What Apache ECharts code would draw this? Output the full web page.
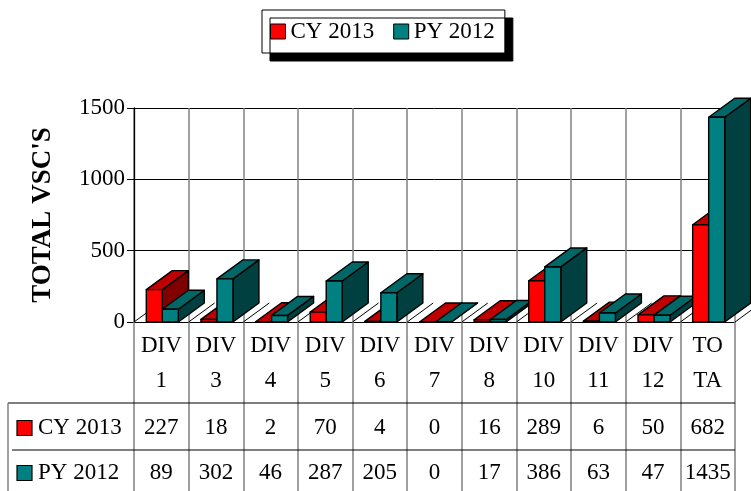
<!DOCTYPE html>
<html>
<head>
<meta charset="utf-8">
<script src="https://cdn.jsdelivr.net/npm/echarts@6/dist/echarts.min.js"></script>
<style>
  html, body { margin: 0; padding: 0; background: #fff; }
  #chart { width: 751px; height: 491px; }
</style>
</head>
<body>
<div id="chart"></div>
<script>
// data
const categories = ['DIV\n1', 'DIV\n3', 'DIV\n4', 'DIV\n5', 'DIV\n6', 'DIV\n7', 'DIV\n8', 'DIV\n10', 'DIV\n11', 'DIV\n12', 'TO\nTA'];
const cy2013 = [227, 18, 2, 70, 4, 0, 16, 289, 6, 50, 682];
const py2012 = [89, 302, 46, 287, 205, 0, 17, 386, 63, 47, 1435];
const seriesNames = ['CY 2013', 'PY 2012'];
const yTicks = [0, 500, 1000, 1500];

const FONT = '"Liberation Serif", "Times New Roman", serif';
const palettes = [
  { front: '#ff0000', top: '#c00000', side: '#800000' },
  { front: '#008080', top: '#006666', side: '#004040' }
];
const DEPTH_X = 26;
const DEPTH_Y = -19;

const chart = echarts.init(document.getElementById('chart'), null, { renderer: 'canvas' });

// 3D 柱子
function renderBar(k) {
  const pal = palettes[k];
  return function (params, api) {
    const i = api.value(0);
    const v = api.value(1);
    const base = api.coord([i, 0]);
    const top = api.coord([i, v]);
    const band = api.size([1, 0])[0];
    const w = band * 0.293;
    const x0 = base[0] - band * 0.275 + k * w;
    const x1 = x0 + w;
    const ty = top[1];
    const by = base[1];
    const z = i * 10 + k * 4;
    const stroke = { stroke: '#000', lineWidth: 1.4, lineJoin: 'round' };
    return {
      type: 'group',
      children: [
        {
          type: 'polygon', z2: z,
          shape: { points: [[x1, ty], [x1 + DEPTH_X, ty + DEPTH_Y], [x1 + DEPTH_X, by + DEPTH_Y], [x1, by]] },
          style: Object.assign({ fill: pal.side }, stroke)
        },
        {
          type: 'polygon', z2: z + 1,
          shape: { points: [[x0, ty], [x1, ty], [x1 + DEPTH_X, ty + DEPTH_Y], [x0 + DEPTH_X, ty + DEPTH_Y]] },
          style: Object.assign({ fill: pal.top }, stroke)
        },
        {
          type: 'rect', z2: z + 2,
          shape: { x: x0, y: ty, width: w, height: by - ty },
          style: Object.assign({ fill: pal.front }, stroke)
        }
      ]
    };
  };
}

const option = {
  animation: false,
  backgroundColor: '#fff',
  legend: {
    left: 262,
    top: 10,
    padding: [10, 10, 10, 8],
    itemWidth: 15,
    itemHeight: 15,
    itemGap: 19,
    icon: 'rect',
    backgroundColor: '#fff',
    borderColor: '#000',
    borderWidth: 1,
    borderRadius: 0,
    shadowColor: '#000',
    shadowBlur: 0,
    shadowOffsetX: 8,
    shadowOffsetY: 8,
    itemStyle: { borderColor: '#000', borderWidth: 1 },
    textStyle: { fontFamily: FONT, fontSize: 23, color: '#000' },
    data: seriesNames
  },
  grid: { left: 134, right: 16, top: 108, bottom: 169, containLabel: false },
  xAxis: {
    type: 'category',
    data: categories,
    boundaryGap: true,
    axisLine: { show: true, lineStyle: { color: '#000', width: 1 } },
    axisTick: { show: true, length: 170, lineStyle: { color: '#808080', width: 1.5 } },
    axisLabel: { fontFamily: FONT, fontSize: 23, color: '#000', lineHeight: 35, margin: 6, interval: 0 },
    splitLine: { show: true, lineStyle: { color: '#808080', width: 1.5 } }
  },
  yAxis: {
    type: 'value',
    min: yTicks[0],
    max: yTicks[yTicks.length - 1],
    interval: yTicks[1] - yTicks[0],
    name: "TOTAL VSC'S",
    nameLocation: 'middle',
    nameGap: 77,
    nameTextStyle: { fontFamily: FONT, fontSize: 27, fontWeight: 'bold', color: '#000' },
    axisLine: { show: true, lineStyle: { color: '#000', width: 1.3 } },
    axisTick: { show: true, length: 7, lineStyle: { color: '#000' } },
    axisLabel: { fontFamily: FONT, fontSize: 23, color: '#000', margin: 9, formatter: v => String(v) },
    splitLine: { show: true, lineStyle: { color: '#000', width: 1 } }
  },
  series: [
    {
      name: seriesNames[0], type: 'custom', z: 3,
      itemStyle: { color: palettes[0].front },
      renderItem: renderBar(0),
      encode: { x: 0, y: 1 },
      data: cy2013.map((v, i) => [i, v])
    },
    {
      name: seriesNames[1], type: 'custom', z: 3,
      itemStyle: { color: palettes[1].front },
      renderItem: renderBar(1),
      encode: { x: 0, y: 1 },
      data: py2012.map((v, i) => [i, v])
    }
  ]
};

chart.setOption(option);

// 表格、地板斜线、网格延长
const c0 = chart.convertToPixel({ xAxisIndex: 0 }, 0);
const c1 = chart.convertToPixel({ xAxisIndex: 0 }, 1);
const band = c1 - c0;
const y0 = chart.convertToPixel({ yAxisIndex: 0 }, 0);
const leftEdge = c0 - band / 2;
const rightEdge = leftEdge + band * categories.length;
const rowLineY = [403, 450];
const rowTextY = [428, 473];
const graphics = [];

// 地板斜线
for (let b = 0; b <= categories.length; b++) {
  const x = leftEdge + b * band;
  graphics.push({
    type: 'line', z: 1,
    shape: { x1: x, y1: y0, x2: x + DEPTH_X, y2: y0 + DEPTH_Y },
    style: { stroke: '#000', lineWidth: 1 }
  });
}
// 网格线延长到右边
yTicks.slice(1).forEach(t => {
  const y = chart.convertToPixel({ yAxisIndex: 0 }, t);
  graphics.push({
    type: 'line', z: 1,
    shape: { x1: rightEdge, y1: y, x2: 751, y2: y },
    style: { stroke: '#000', lineWidth: 1 }
  });
});
// 表格横线
rowLineY.forEach((y, r) => {
  graphics.push({
    type: 'line', z: 1,
    shape: { x1: r === 0 ? 8 : 12, y1: y, x2: rightEdge, y2: y },
    style: { stroke: '#000', lineWidth: 1.2 }
  });
});
graphics.push({
  type: 'line', z: 1,
  shape: { x1: 8, y1: rowLineY[0], x2: 8, y2: 491 },
  style: { stroke: '#808080', lineWidth: 1.5 }
});
// 行标题
[cy2013, py2012].forEach((arr, r) => {
  graphics.push({
    type: 'rect', z: 5,
    shape: { x: 17, y: rowTextY[r] - 7.5, width: 15, height: 15 },
    style: { fill: palettes[r].front, stroke: '#000', lineWidth: 1.2 }
  });
  graphics.push({
    type: 'text', z: 5, x: 38, y: rowTextY[r],
    style: { text: seriesNames[r], font: '23px ' + FONT, fill: '#000', align: 'left', verticalAlign: 'middle' }
  });
  arr.forEach((v, i) => {
    graphics.push({
      type: 'text', z: 5, x: c0 + i * band, y: rowTextY[r],
      style: { text: String(v), font: '23px ' + FONT, fill: '#000', align: 'center', verticalAlign: 'middle' }
    });
  });
});

chart.setOption({ graphic: graphics });
</script>
</body>
</html>
